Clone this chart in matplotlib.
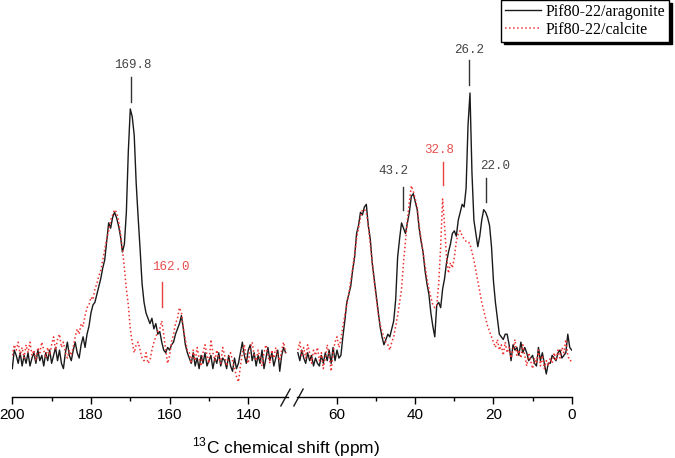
import numpy as np
import matplotlib.pyplot as plt
from matplotlib.transforms import blended_transform_factory

plt.rcParams['font.family'] = 'Liberation Sans'
plt.rcParams['mathtext.fontset'] = 'custom'
plt.rcParams['mathtext.rm'] = 'Liberation Sans'

# chemical shift grids (ppm), left segment 200-130.5, right segment 70-0
ppm_left = np.arange(200.0, 130.25, -0.5)
ppm_right = np.arange(70.0, -0.25, -0.5)

# Pif80-22/aragonite, left segment
arag_left = [
    -4, 3, 1, -2, 2, -3, 1, -2, 2, -3,
    0, 2, -2, 3, -1, 1, -3, 2, -1, 3,
    -2, 1, 4, -1, 3, -2, -4, 2, 6, 1,
    -1, 3, 6, 2, 0, 5, 8, 4, 9, 12,
    17, 20, 21, 24, 27, 30, 34, 37, 44, 51,
    49, 53, 55, 53, 50, 46, 40, 43, 55, 78,
    94, 91, 84, 66, 53, 41, 28, 21, 17, 15,
    13, 15, 11, 13, 9, 10, 6, 3, 2, 4,
    3, 5, 6, 9, 11, 13, 16, 11, 5, 2,
    0, -2, 2, -3, 0, -4, 1, -2, 2, -3,
    -1, 1, -4, 0, -2, 2, -3, 0, -1, -4,
    1, -3, -5, 0, -4, -2, 2, 6, 1, -2,
    3, 5, -1, 2, -3, 1, -2, 3, -4, 0,
    4, -1, 2, -3, 0, 3, -5, 1, 4, 2,
]

# Pif80-22/calcite, left segment
calc_left = [
    1, 5, 3, 6, 1, 4, 0, 5, 2, 6,
    1, 3, -1, 4, 2, 6, 3, 0, 4, 1,
    5, 8, 3, 7, 9, 4, 6, 2, 0, 3,
    1, 4, 8, 11, 9, 13, 12, 16, 19, 20,
    23, 22, 26, 28, 31, 33, 37, 41, 45, 48,
    52, 54, 56, 55, 52, 47, 41, 34, 26, 20,
    11, 6, 2, 5, 6, 3, 0, -1, 2, -2,
    -1, 3, 6, 8, 10, 11, 14, 9, 3, -2,
    1, 6, 9, 13, 15, 19, 17, 11, 7, 3,
    2, -2, 3, -1, 4, 0, -3, 2, 5, 1,
    -2, 7, 2, -1, 3, 0, -2, 4, 1, -3,
    0, 2, -1, -4, -7, -9, -3, 2, 5, 0,
    -2, 4, 6, 1, -1, 3, 0, -3, 2, 5,
    1, -2, 3, 0, 4, 1, -1, 3, 6, 2,
]

# Pif80-22/aragonite, right segment
arag_right = [
    2, -1, 3, 0, -2, 2, -1, 1, -3, 0,
    -2, -3, 1, -2, 2, -1, 3, -2, 4, -1,
    3, 0, 1, 8, 14, 21, 24, 27, 33, 38,
    47, 50, 55, 54, 57, 58, 50, 45, 36, 30,
    24, 18, 12, 8, 5, 7, 9, 8, 11, 14,
    22, 38, 45, 51, 49, 47, 51, 55, 61, 62,
    59, 56, 49, 44, 40, 33, 28, 24, 17, 12,
    8, 20, 21, 19, 26, 30, 36, 40, 43, 47,
    48, 46, 52, 55, 58, 57, 64, 88, 100, 70,
    52, 47, 42, 46, 52, 56, 55, 53, 50, 42,
    29, 21, 15, 9, 8, 7, 9, 9, 5, -1,
    5, 3, 4, 1, 6, 2, 4, 2, -1, 0,
    1, -2, -3, 4, -1, 2, -2, -6, -2, -2,
    1, 0, -1, 2, 3, 0, 1, 2, 9, 4,
    3,
]

# Pif80-22/calcite, right segment
calc_right = [
    3, 6, 1, 4, 0, 5, 2, -2, 3, 1,
    4, -1, 2, -4, 0, 5, 1, -5, 2, 6,
    8, 4, 7, 12, 16, 20, 24, 29, 34, 39,
    45, 49, 53, 56, 56, 55, 50, 43, 36, 29,
    23, 17, 13, 10, 8, 6, 5, 3, 6, 8,
    12, 16, 21, 26, 36, 44, 52, 59, 65, 63,
    60, 57, 50, 45, 40, 35, 30, 26, 23, 20,
    19, 20, 28, 42, 60, 50, 38, 32, 36, 34,
    38, 44, 47, 48, 46, 45, 44, 44, 43, 40,
    37, 33, 29, 25, 21, 18, 15, 12, 10, 8,
    6, 4, 7, 3, 5, 1, 6, 2, 4, 0,
    3, 7, 1, 3, 0, 5, 1, -3, 2, -1,
    -4, 0, -2, 3, -3, 1, -4, -1, -3, 0,
    -2, 2, -1, 3, 0, 4, 2, 7, 1, -1,
    -1,
]

# peak assignments
peak_ppm = [169.8, 162.0, 43.2, 32.8, 26.2, 22.0]
peak_text = ['169.8', '162.0', '43.2', '32.8', '26.2', '22.0']
peak_series = ['aragonite', 'calcite', 'aragonite', 'calcite', 'aragonite', 'aragonite']

# label placement: text x (ppm), text y, tick bottom, tick top
label_x = [169.3, 159.6, 45.7, 33.8, 26.3, 19.6]
label_y = [110.6, 34.3, 70.6, 78.5, 116.2, 72.5]
tick_lo = [96.6, 19.2, 55.8, 65.3, 103.0, 58.9]
tick_hi = [106.0, 28.7, 64.5, 74.0, 112.5, 68.0]

black = '#1a1a1a'
red = '#ee3030'
text_col = {'aragonite': '#444444', 'calcite': '#e8504f'}
line_col = {'aragonite': '#333333', 'calcite': '#e84040'}

fig = plt.figure(figsize=(6.75, 4.58), dpi=100)
W, H = 675, 458
ax_l = fig.add_axes([12.3 / W, 61 / H, (287.6 - 12.3) / W, 397 / H])
ax_r = fig.add_axes([296.7 / W, 61 / H, (571.7 - 296.7) / W, 397 / H])

l1, = ax_l.plot(ppm_left, arag_left, color=black, lw=1.0)
l2, = ax_l.plot(ppm_left, calc_left, color=red, lw=1.1, ls=':')
ax_r.plot(ppm_right, arag_right, color=black, lw=1.0)
ax_r.plot(ppm_right, calc_right, color=red, lw=1.1, ls=':')

ax_l.set_xlim(200, 130.0)
ax_r.set_xlim(70.3, 0)
for ax in (ax_l, ax_r):
    ax.set_ylim(-14.7, 135.1)
    ax.patch.set_visible(False)
    for s in ('top', 'left', 'right'):
        ax.spines[s].set_visible(False)
    ax.spines['bottom'].set_linewidth(1.0)
    ax.set_yticks([])
    ax.tick_params(axis='x', which='major', direction='out', length=5, width=1,
                   labelsize=11, pad=3)
    ax.tick_params(axis='x', which='minor', direction='out', length=3, width=1)

ax_l.set_xticks([200, 180, 160, 140])
ax_l.set_xticks([190, 170, 150], minor=True)
ax_r.set_xticks([60, 40, 20, 0])
ax_r.set_xticks([50, 30, 10], minor=True)

# axis break marks
kw = dict(marker=[(-0.55, -1), (0.55, 1)], markersize=13, linestyle='none',
          color=black, mec=black, mew=1, clip_on=False)
ax_l.plot([130.6], [0], transform=blended_transform_factory(ax_l.transData, ax_l.transAxes), **kw)
ax_r.plot([70.0], [0], transform=blended_transform_factory(ax_r.transData, ax_r.transAxes), **kw)

# peak labels
for i in range(len(peak_ppm)):
    ax = ax_l if peak_ppm[i] > 100 else ax_r
    s = peak_series[i]
    ax.plot([peak_ppm[i], peak_ppm[i]], [tick_lo[i], tick_hi[i]], color=line_col[s], lw=1.0)
    ax.text(label_x[i], label_y[i], peak_text[i], ha='center', va='center',
            family='Liberation Mono', fontsize=9, color=text_col[s])

fig.text(286 / W, 1 - 447 / H, r'$^{13}$C chemical shift (ppm)', ha='center', va='center',
         fontsize=12.5)

leg = fig.legend([l1, l2], ['Pif80-22/aragonite', 'Pif80-22/calcite'],
                 loc='upper right', bbox_to_anchor=(669 / W, 1.0), borderaxespad=0,
                 prop={'family': 'Liberation Serif', 'size': 11.5},
                 fancybox=False, framealpha=1, edgecolor='black',
                 shadow={'color': 'black', 'alpha': 1},
                 handlelength=2.2, handletextpad=0.3, labelspacing=0.1, borderpad=0.25)
leg.get_frame().set_linewidth(1.0)

fig.savefig('out.png', dpi=100)
